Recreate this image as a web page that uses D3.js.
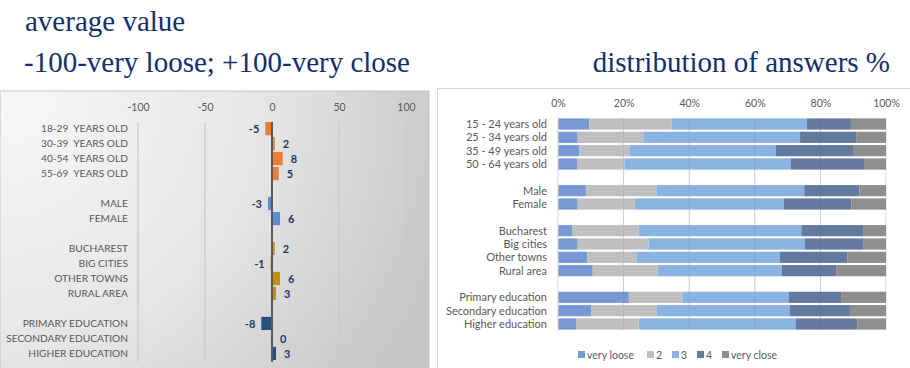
<!DOCTYPE html>
<html>
<head>
<meta charset="utf-8">
<script src="https://cdn.jsdelivr.net/npm/d3@7"></script>
<style>
  html, body { margin: 0; padding: 0; background: #ffffff; }
  svg { display: block; }
  text { white-space: pre; }
</style>
</head>
<body>
<svg id="chart" width="910" height="368"></svg>
<script>
// ---- average value panel (-100 .. +100) ----
const avgLabels = [
  "18-29  YEARS OLD", "30-39  YEARS OLD", "40-54  YEARS OLD", "55-69  YEARS OLD", null,
  "MALE", "FEMALE", null,
  "BUCHAREST", "BIG CITIES", "OTHER TOWNS", "RURAL AREA", null,
  "PRIMARY EDUCATION", "SECONDARY EDUCATION", "HIGHER EDUCATION"
];
const avgValues = [-5, 2, 8, 5, null, -3, 6, null, 2, -1, 6, 3, null, -8, 0, 3];
const avgGroup  = ["age", "age", "age", "age", null, "sex", "sex", null,
                   "area", "area", "area", "area", null, "edu", "edu", "edu"];
const avgTicks  = [-100, -50, 0, 50, 100];

// ---- distribution panel (stacked %) ----
const distLabels = [
  "15 - 24 years old", "25 - 34 years old", "35 - 49 years old", "50 - 64 years old", null,
  "Male", "Female", null,
  "Bucharest", "Big cities", "Other towns", "Rural area", null,
  "Primary education", "Secondary education", "Higher education"
];
const answerKeys = ["very loose", "2", "3", "4", "very close"];
const veryLoose = [9.5, 6.0, 6.5, 5.8, null, 8.5, 6.0, null, 4.3, 6.0, 8.9, 10.6, null, 21.6, 10.1, 5.5];
const answer2   = [25.2, 20.0, 15.3, 14.5, null, 21.6, 17.4, null, 20.3, 21.6, 15.1, 19.8, null, 16.3, 20.0, 19.1];
const answer3   = [41.2, 47.8, 44.6, 50.6, null, 45.0, 45.5, null, 49.6, 47.6, 43.6, 37.8, null, 32.4, 40.5, 47.8];
const answer4   = [13.4, 17.1, 23.8, 22.4, null, 16.8, 20.5, null, 19.0, 17.8, 20.6, 16.6, null, 16.0, 18.4, 18.8];
const veryClose = [10.7, 9.1, 9.8, 6.7, null, 8.1, 10.6, null, 6.8, 7.0, 11.8, 15.2, null, 13.7, 11.0, 8.8];
const pctTicks  = [0, 20, 40, 60, 80, 100];

const svg = d3.select("#chart");
const sans = "Lato, 'Open Sans', sans-serif";
const serif = "'Liberation Serif', 'Times New Roman', serif";
const navy = "#13306b";

// ---- titles ----
svg.append("text").attr("x", 25).attr("y", 31)
  .attr("font-family", serif).attr("font-size", 29).attr("fill", navy).text("average value");
svg.append("text").attr("x", 24).attr("y", 72)
  .attr("font-family", serif).attr("font-size", 29).attr("fill", navy).text("-100-very loose; +100-very close");
svg.append("text").attr("x", 890).attr("y", 72).attr("text-anchor", "end")
  .attr("font-family", serif).attr("font-size", 29).attr("fill", navy).text("distribution of answers %");

// ---- left panel background ----
const defs = svg.append("defs");
const grad = defs.append("radialGradient").attr("id", "panelGrad")
  .attr("gradientUnits", "userSpaceOnUse")
  .attr("cx", 0).attr("cy", 91).attr("r", 470);
grad.append("stop").attr("offset", "0%").attr("stop-color", "#f8f8f8");
grad.append("stop").attr("offset", "55%").attr("stop-color", "#e6e6e6");
grad.append("stop").attr("offset", "100%").attr("stop-color", "#c6c6c6");
svg.append("rect").attr("x", 0).attr("y", 91).attr("width", 429).attr("height", 290)
  .attr("fill", "url(#panelGrad)").attr("stroke", "#c4c4c4").attr("stroke-width", 1);

// ---- left chart ----
const xAvg = d3.scaleLinear().domain([-100, 100]).range([138, 406]);
const yAvg = d3.scaleBand().domain(d3.range(avgLabels.length)).range([122, 360]).paddingInner(0.12);
const groupColor = { age: "#ed7d31", sex: "#5b8dd6", area: "#c09100", edu: "#24517f" };

const gAvg = svg.append("g");
gAvg.selectAll("line.grid").data(avgTicks.filter(t => t !== 0)).join("line")
  .attr("x1", d => xAvg(d)).attr("x2", d => xAvg(d))
  .attr("y1", 122).attr("y2", 362)
  .attr("stroke", "#c8c8c8").attr("stroke-width", 1.2);

const axAvg = d3.axisTop(xAvg).tickValues(avgTicks).tickFormat(d => String(d)).tickSize(0).tickPadding(0);
const axAvgG = svg.append("g").attr("transform", "translate(0,111)").call(axAvg);
axAvgG.select(".domain").remove();
axAvgG.selectAll("text").attr("font-family", sans).attr("font-size", 10.5).attr("fill", "#595959");

const avgRows = avgValues.map((v, i) => ({ i, v, label: avgLabels[i], group: avgGroup[i] }))
  .filter(d => d.v !== null);

gAvg.selectAll("rect.bar").data(avgRows).join("rect")
  .attr("x", d => xAvg(Math.min(0, d.v)))
  .attr("width", d => Math.abs(xAvg(d.v) - xAvg(0)))
  .attr("y", d => yAvg(d.i)).attr("height", yAvg.bandwidth())
  .attr("fill", d => groupColor[d.group]);

gAvg.append("line").attr("x1", xAvg(0)).attr("x2", xAvg(0))
  .attr("y1", 122).attr("y2", 362).attr("stroke", "#595959").attr("stroke-width", 2);

gAvg.selectAll("text.cat").data(avgRows).join("text")
  .attr("x", 128).attr("y", d => yAvg(d.i) + yAvg.bandwidth() / 2)
  .attr("dy", "0.35em").attr("text-anchor", "end")
  .attr("font-family", sans).attr("font-size", 10.2).attr("fill", "#595959")
  .text(d => d.label);

gAvg.selectAll("text.val").data(avgRows).join("text")
  .attr("x", d => d.v < 0 ? xAvg(d.v) - 6 : xAvg(d.v) + 8)
  .attr("y", d => yAvg(d.i) + yAvg.bandwidth() / 2 + 1)
  .attr("dy", "0.35em").attr("text-anchor", d => d.v < 0 ? "end" : "start")
  .attr("font-family", sans).attr("font-size", 11).attr("font-weight", "bold")
  .attr("fill", "#1f3864").text(d => String(d.v));

// ---- right panel ----
svg.append("rect").attr("x", 437.5).attr("y", 88.5).attr("width", 480).attr("height", 290)
  .attr("fill", "#ffffff").attr("stroke", "#d9d9d9").attr("stroke-width", 1);

const xPct = d3.scaleLinear().domain([0, 100]).range([558, 886]);
const yPct = d3.scaleBand().domain(d3.range(distLabels.length)).range([118.4, 329.6]).paddingInner(0.16);
const answerColor = d3.scaleOrdinal().domain(answerKeys)
  .range(["#7799d4", "#bfbfbf", "#89b4e1", "#64799f", "#8e8e8e"]);

const series = [veryLoose, answer2, answer3, answer4, veryClose];
const distRows = distLabels.map((label, i) => {
  const row = { i, label };
  answerKeys.forEach((k, j) => { row[k] = series[j][i]; });
  return row;
}).filter(d => d.label !== null);

const stacked = d3.stack().keys(answerKeys)(distRows);

const gPct = svg.append("g");
gPct.selectAll("line.grid").data(pctTicks.slice(1)).join("line")
  .attr("x1", d => xPct(d)).attr("x2", d => xPct(d))
  .attr("y1", 118).attr("y2", 330)
  .attr("stroke", "#d9d9d9").attr("stroke-width", 1);

gPct.selectAll("g.layer").data(stacked).join("g")
  .attr("fill", d => answerColor(d.key))
  .selectAll("rect").data(d => d).join("rect")
  .attr("x", d => xPct(d[0])).attr("width", d => xPct(d[1]) - xPct(d[0]))
  .attr("y", d => yPct(d.data.i)).attr("height", yPct.bandwidth());

// gridlines show faintly through the bars
gPct.selectAll("line.over").data(pctTicks.slice(1, -1)).join("line")
  .attr("x1", d => xPct(d)).attr("x2", d => xPct(d))
  .attr("y1", 118).attr("y2", 330)
  .attr("stroke", "#000000").attr("stroke-opacity", 0.06).attr("stroke-width", 1);

gPct.append("line").attr("x1", xPct(0)).attr("x2", xPct(0))
  .attr("y1", 118).attr("y2", 330).attr("stroke", "#d9d9d9").attr("stroke-width", 1);

const axPct = d3.axisTop(xPct).tickValues(pctTicks).tickFormat(d => d + "%").tickSize(0).tickPadding(0);
const axPctG = svg.append("g").attr("transform", "translate(0,107)").call(axPct);
axPctG.select(".domain").remove();
axPctG.selectAll("text").attr("font-family", sans).attr("font-size", 10.5).attr("fill", "#595959");

gPct.selectAll("text.cat").data(distRows).join("text")
  .attr("x", 547).attr("y", d => yPct(d.i) + yPct.bandwidth() / 2)
  .attr("dy", "0.35em").attr("text-anchor", "end")
  .attr("font-family", sans).attr("font-size", 11).attr("fill", "#595959")
  .text(d => d.label);

// ---- legend ----
const legendX = [578, 647, 672, 697, 722];
const legend = svg.append("g").selectAll("g").data(answerKeys).join("g")
  .attr("transform", (d, i) => `translate(${legendX[i]},355)`);
legend.append("rect").attr("x", 0).attr("y", -4).attr("width", 7).attr("height", 7)
  .attr("fill", d => answerColor(d));
legend.append("text").attr("x", 9).attr("y", 0).attr("dy", "0.35em")
  .attr("font-family", sans).attr("font-size", 10.5).attr("fill", "#595959")
  .text(d => d);
</script>
</body>
</html>
